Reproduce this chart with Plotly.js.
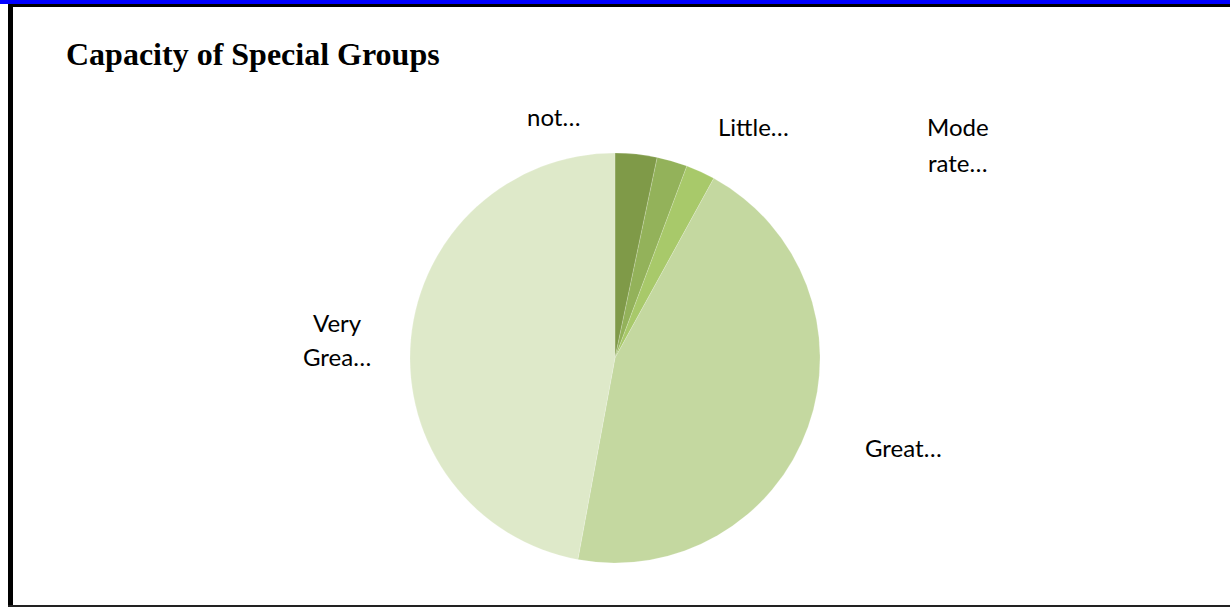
<!DOCTYPE html>
<html>
<head>
<meta charset="utf-8">
<script src="https://cdn.plot.ly/plotly-3.0.1.min.js"></script>
<style>html,body{margin:0;padding:0;background:#fff;}#chart{width:1230px;height:609px;}</style>
</head>
<body>
<div id="chart"></div>
<script>
// Data
var categories = ["not at all", "Little", "Moderate", "Great", "Very Great"];
var shortLabels = ["not…", "Little…", "Mode<br>rate…", "Great…", "Very<br>Grea…"];
var values = [3.3, 2.4, 2.3, 44.9, 47.1];
var colors = ["#7f9a48", "#93b25a", "#a8c96a", "#c4d8a0", "#dee9c9"];

// Label placement (pixels of the 1230x609 canvas): centre of first line
var labelPos = [[553, 117], [753, 127], [958, 127], [903, 447], [337, 322]];
var lineGap = 35;

var W = 1230, H = 609;
function px(x) { return x / W; }
function py(y) { return 1 - y / H; }

var trace = {
  type: "pie",
  labels: categories,
  values: values,
  sort: false,
  direction: "clockwise",
  rotation: 0,
  marker: { colors: colors, line: { color: "rgba(255,255,255,0.35)", width: 0.5 } },
  textinfo: "none",
  hoverinfo: "label+percent",
  domain: { x: [px(410), px(820)], y: [py(563), py(153)] },
  showlegend: false
};

var annotations = [];
shortLabels.forEach(function (t, i) {
  t.split("<br>").forEach(function (line, j) {
    annotations.push({
      text: line, xref: "paper", yref: "paper",
      x: px(labelPos[i][0]), y: py(labelPos[i][1] + j * lineGap),
      xanchor: "center", yanchor: "middle", showarrow: false, align: "center",
      font: { family: "Lato, 'Open Sans', sans-serif", size: 24, color: "#000" }
    });
  });
});

var shapes = [
  { type: "rect", xref: "paper", yref: "paper", x0: 0, x1: 1, y0: py(4), y1: 1, fillcolor: "#0000ff", line: { width: 0 } },
  { type: "rect", xref: "paper", yref: "paper", x0: px(8), x1: 1, y0: py(7), y1: py(4), fillcolor: "#000", line: { width: 0 } },
  { type: "rect", xref: "paper", yref: "paper", x0: px(8), x1: px(13), y0: py(607), y1: py(4), fillcolor: "#000", line: { width: 0 } },
  { type: "rect", xref: "paper", yref: "paper", x0: px(8), x1: 1, y0: py(607), y1: py(605), fillcolor: "#222", line: { width: 0 } }
];

var layout = {
  width: W, height: H,
  margin: { l: 0, r: 0, t: 0, b: 0 },
  paper_bgcolor: "#fff",
  title: {
    text: "<b>Capacity of Special Groups</b>",
    font: { family: "'Liberation Serif', 'Times New Roman', serif", size: 32, color: "#000" },
    x: px(66), xanchor: "left", xref: "paper",
    y: py(54), yanchor: "middle", yref: "paper"
  },
  annotations: annotations,
  shapes: shapes
};

Plotly.newPlot("chart", [trace], layout, { displayModeBar: false, staticPlot: false });
</script>
</body>
</html>
